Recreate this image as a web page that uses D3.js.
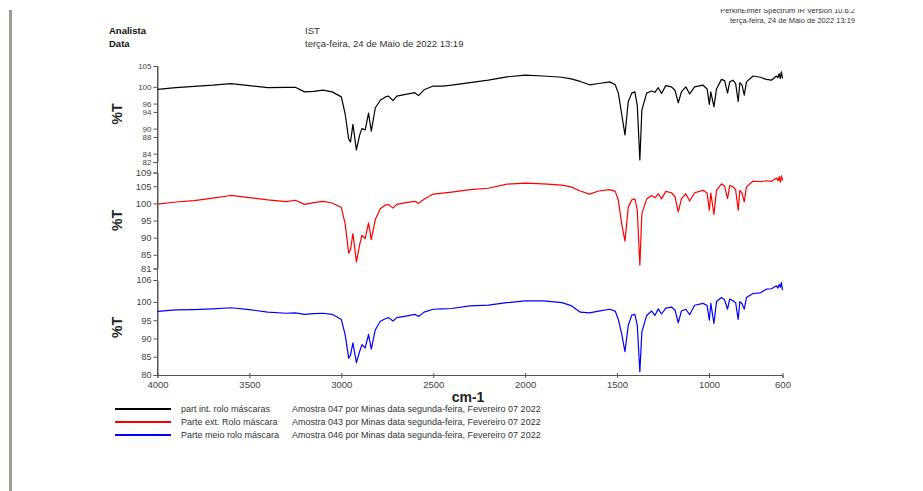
<!DOCTYPE html>
<html>
<head>
<meta charset="utf-8">
<script src="https://cdn.jsdelivr.net/npm/d3@7"></script>
<style>
  html, body { margin: 0; padding: 0; background: #ffffff; }
  svg { display: block; font-family: "Liberation Sans", Arial, sans-serif; }
</style>
</head>
<body>
<svg id="chart" width="923" height="491"></svg>
<script>
// ---------------- DATA ----------------
const wavenumbers = [4000, 3900, 3800, 3700, 3600, 3500, 3400, 3300, 3250, 3200, 3150, 3100, 3050, 3000,
  2979, 2960, 2950, 2937, 2918, 2900, 2888, 2870, 2852, 2837, 2815, 2788, 2760, 2743, 2719, 2698, 2650,
  2600, 2580, 2550, 2500, 2450, 2400, 2300, 2200, 2100, 2000, 1900, 1800, 1750, 1700, 1650, 1600, 1540,
  1510, 1493, 1475, 1457, 1439, 1420, 1403, 1390, 1376, 1365, 1339, 1312, 1294, 1276, 1258, 1235, 1204,
  1185, 1167, 1150, 1126, 1105, 1078, 1032, 1010, 998, 990, 973, 959, 932, 915, 899, 887, 869, 855, 841,
  832, 820, 808, 796, 760, 720, 688, 660, 633, 625, 618, 612, 606, 600];

const seriesNames = ["part int. rolo máscaras", "Parte ext. Rolo máscara", "Parte meio rolo máscara"];
const seriesInfo = [
  "Amostra 047 por Minas data segunda-feira, Fevereiro 07 2022",
  "Amostra 043 por Minas data segunda-feira, Fevereiro 07 2022",
  "Amostra 046 por Minas data segunda-feira, Fevereiro 07 2022"
];

const blackT = [99.4, 99.8, 100.1, 100.4, 100.8, 100.3, 99.8, 99.9, 99.9, 98.8, 98.9, 99.2, 98.8, 97.6,
  93.5, 87.5, 86.8, 91.0, 84.9, 88.5, 90.0, 89.7, 93.7, 89.4, 95.0, 96.8, 97.6, 97.8, 96.7, 97.8, 98.2,
  98.6, 97.9, 99.3, 100.2, 100.2, 100.4, 101.0, 101.6, 102.4, 102.8, 102.6, 102.3, 101.9, 101.3, 100.5, 100.8, 101.2,
  100.5, 98.5, 93.5, 88.5, 96.5, 98.5, 98.8, 95.5, 82.5, 94.5, 98.5, 99.0, 98.7, 99.8, 98.4, 100.3, 100.0,
  99.2, 96.2, 98.8, 100.0, 98.3, 100.0, 100.4, 99.5, 95.8, 98.8, 95.2, 99.5, 101.8, 101.5, 98.5, 101.2, 101.6, 100.8, 96.5,
  101.0, 100.4, 98.0, 101.2, 102.6, 102.3, 101.8, 101.6, 102.6, 102.2, 103.2, 102.0, 103.6, 102.0];

const redT = [99.8, 100.4, 100.8, 101.5, 102.3, 101.7, 101.0, 100.5, 100.9, 99.7, 100.2, 100.6, 100.1, 98.8,
  94.0, 85.5, 86.5, 91.2, 82.9, 88.0, 90.7, 89.7, 94.3, 89.4, 95.3, 98.4, 99.5, 99.7, 98.6, 99.7, 100.2,
  100.6, 100.0, 101.2, 102.7, 103.0, 103.3, 104.0, 104.4, 105.6, 105.9, 105.7, 105.3, 104.8, 103.6, 102.7, 103.6, 104.0,
  103.5, 100.9, 94.1, 89.0, 98.9, 101.0, 101.3, 98.0, 82.0, 97.0, 101.3, 102.3, 101.6, 102.8, 101.3, 103.5, 103.1,
  102.0, 97.5, 101.3, 102.8, 100.7, 103.1, 103.8, 103.0, 98.0, 103.0, 96.8, 103.8, 105.7, 105.0, 101.4, 105.2, 104.8, 104.0, 98.0,
  103.8, 103.0, 100.4, 104.8, 106.5, 106.3, 106.6, 106.4, 107.4, 106.6, 107.8, 106.2, 108.0, 106.6];

const blueT = [97.4, 97.8, 97.9, 98.1, 98.4, 97.9, 97.2, 96.9, 97.0, 96.6, 96.8, 96.9, 96.6, 95.2,
  91.0, 84.6, 85.5, 88.8, 83.4, 86.5, 88.3, 87.4, 91.1, 87.1, 92.4, 94.7, 95.4, 95.7, 94.8, 95.7, 96.1,
  96.6, 96.0, 97.2, 98.0, 98.1, 98.2, 98.9, 99.1, 99.8, 100.3, 100.3, 99.8, 99.0, 97.2, 97.0, 97.5, 98.0,
  97.5, 95.2, 91.3, 86.4, 93.6, 96.4, 96.6, 93.6, 80.9, 91.8, 96.3, 97.5, 96.3, 98.1, 96.7, 98.3, 98.6,
  97.8, 94.3, 97.5, 98.0, 96.5, 99.1, 99.6, 99.0, 95.0, 99.6, 94.1, 100.1, 101.2, 100.6, 98.0, 100.8, 100.3, 99.8, 95.2,
  100.1, 99.5, 98.0, 101.2, 102.3, 102.5, 103.5, 103.6, 104.4, 103.8, 104.8, 104.0, 105.3, 103.2];

const xTicks = [4000, 3500, 3000, 2500, 2000, 1500, 1000, 600];
const yTicks1 = [105, 100, 96, 94, 90, 88, 84, 82];
const yTicks2 = [109, 105, 100, 95, 90, 85, 81];
const yTicks3 = [106, 100, 95, 90, 85, 80];
const yDomains = [[82, 105], [81, 109], [80, 106]];
const colors = ["#000000", "#ff0000", "#0000ff"];

// ---------------- DRAW ----------------
const svg = d3.select("#chart");
const axisColor = "#555555";
const textColor = "#333333";

// left gray page edge
svg.append("rect").attr("x", 9).attr("y", 10).attr("width", 3).attr("height", 481).attr("fill", "#a09a92");

// header
const hdr = svg.append("g").attr("fill", "#111");
hdr.append("text").attr("x", 109).attr("y", 34).attr("font-size", 9.5).attr("font-weight", "bold").text("Analista");
hdr.append("text").attr("x", 109).attr("y", 47).attr("font-size", 9.5).attr("font-weight", "bold").text("Data");
hdr.append("text").attr("x", 305).attr("y", 34).attr("font-size", 9.5).attr("fill", textColor).text("IST");
hdr.append("text").attr("x", 305).attr("y", 47).attr("font-size", 9.5).attr("fill", textColor).text("terça-feira, 24 de Maio de 2022 13:19");

svg.append("defs").append("clipPath").attr("id", "topclip")
  .append("rect").attr("x", 0).attr("y", 9).attr("width", 923).attr("height", 40);
const tr = svg.append("g").attr("clip-path", "url(#topclip)").attr("fill", textColor)
  .attr("font-size", 7.5).attr("text-anchor", "end");
tr.append("text").attr("x", 855).attr("y", 13).text("PerkinElmer Spectrum IR Version 10.6.2");
tr.append("text").attr("x", 855).attr("y", 23).text("terça-feira, 24 de Maio de 2022 13:19");

// scales
const x = d3.scaleLinear().domain([4000, 600]).range([157.5, 782.5]);
const panelRanges = [[162, 66], [268.5, 172.5], [375, 280]];
const yScales = yDomains.map((d, i) => d3.scaleLinear().domain(d).range(panelRanges[i]));
const yTickSets = [yTicks1, yTicks2, yTicks3];
const tickFont = [8, 9.5, 9];
const seriesData = [blackT, redT, blueT];

// y axes
yScales.forEach((ys, i) => {
  const g = svg.append("g").attr("transform", "translate(157.5,0)")
    .call(d3.axisLeft(ys).tickValues(yTickSets[i]).tickSize(4).tickPadding(2).tickFormat(d3.format("d")));
  g.select(".domain").attr("stroke", axisColor);
  g.selectAll(".tick line").attr("stroke", axisColor);
  g.selectAll(".tick text").attr("fill", "#444").attr("font-size", tickFont[i])
    .attr("font-family", "Liberation Sans, Arial, sans-serif");

  svg.append("text")
    .attr("transform", `translate(122,${(panelRanges[i][0] + panelRanges[i][1]) / 2}) rotate(-90)`)
    .attr("text-anchor", "middle").attr("font-size", 14).attr("font-weight", "bold").attr("fill", "#222")
    .text("%T");
});

// connecting vertical axis between panels
svg.append("line").attr("x1", 157.5).attr("x2", 157.5).attr("y1", 66).attr("y2", 375).attr("stroke", axisColor);

// x axis
const gx = svg.append("g").attr("transform", "translate(0,375)")
  .call(d3.axisBottom(x).tickValues(xTicks).tickSize(3).tickPadding(3).tickFormat(d3.format("d")));
gx.select(".domain").attr("stroke", axisColor);
gx.selectAll(".tick line").attr("stroke", axisColor).attr("y1", -2);
gx.selectAll(".tick text").attr("fill", "#444").attr("font-size", 9.5)
  .attr("font-family", "Liberation Sans, Arial, sans-serif");

svg.append("text").attr("x", 468).attr("y", 402).attr("text-anchor", "middle")
  .attr("font-size", 14).attr("font-weight", "bold").attr("fill", "#222").text("cm-1");

// spectra
seriesData.forEach((vals, i) => {
  const line = d3.line().x((d, j) => x(wavenumbers[j])).y(d => yScales[i](d));
  svg.append("path").datum(vals).attr("d", line)
    .attr("fill", "none").attr("stroke", colors[i]).attr("stroke-width", 1.2).attr("stroke-linejoin", "round");
});

// legend
const legY = [409, 422, 435];
seriesNames.forEach((name, i) => {
  svg.append("line").attr("x1", 115).attr("x2", 171).attr("y1", legY[i]).attr("y2", legY[i])
    .attr("stroke", colors[i]).attr("stroke-width", 2);
  svg.append("text").attr("x", 181).attr("y", legY[i] + 3).attr("font-size", 9).attr("fill", textColor).text(name);
  svg.append("text").attr("x", 292).attr("y", legY[i] + 3).attr("font-size", 9).attr("fill", textColor).text(seriesInfo[i]);
});
</script>
</body>
</html>
